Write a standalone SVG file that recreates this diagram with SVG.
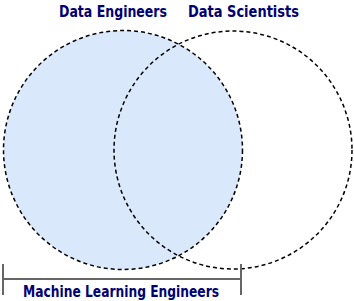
<svg xmlns="http://www.w3.org/2000/svg" width="354" height="301" viewBox="0 0 354 301">
  <style>
    .set { stroke: #000000; stroke-width: 1.5; stroke-dasharray: 4 3; }
    .label { font-family: 'Comic Sans MS', 'DejaVu Sans', sans-serif; font-weight: bold; font-size: 15px; fill: #000073; text-anchor: middle; }
    .bracket { stroke: #666666; stroke-width: 2; fill: none; }
  </style>
  <rect width="354" height="301" fill="#ffffff"/>
  <g id="data-engineers">
    <circle class="set" cx="123" cy="150" r="119.5" fill="#dae8fc"/>
    <text class="label" x="113" y="17" textLength="108" lengthAdjust="spacingAndGlyphs">Data Engineers</text>
  </g>
  <g id="data-scientists">
    <circle class="set" cx="233" cy="150" r="119" fill="none"/>
    <text class="label" x="243.5" y="17" textLength="111" lengthAdjust="spacingAndGlyphs">Data Scientists</text>
  </g>
  <g id="machine-learning-engineers">
    <path class="bracket" d="M3 264 V295 M3 279 H241 M241 264 V295"/>
    <text class="label" x="121" y="296.5" textLength="196" lengthAdjust="spacingAndGlyphs">Machine Learning Engineers</text>
  </g>
  <g id="connectors"/>
</svg>
